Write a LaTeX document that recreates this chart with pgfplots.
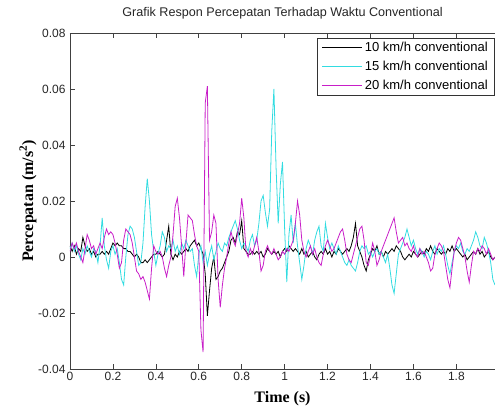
\documentclass[border=0pt]{standalone}
\usepackage{pgfplots}
\usepackage{pgfplotstable}
\pgfplotsset{compat=1.18}
\usepackage{fontspec}
\setmainfont{Liberation Sans}
\newfontfamily\serifb{Liberation Serif}
\definecolor{ccyan}{RGB}{50,220,225}
\definecolor{cmag}{RGB}{200,30,200}
\pgfplotstableread{
t a b c
0.00 0.004 0.003 0.002
0.01 0.002 0.005 0.005
0.02 0.004 0.002 0.003
0.03 0.001 0.004 0.005
0.04 0.003 0.001 0.002
0.05 0.002 -0.001 0.000
0.06 0.007 0.003 -0.002
0.07 0.004 0.001 0.003
0.08 0.002 0.004 0.008
0.09 0.003 0.002 0.006
0.10 0.001 0.000 0.003
0.11 0.002 0.003 0.004
0.12 0.000 0.002 0.001
0.13 0.001 -0.002 0.003
0.14 0.001 0.004 0.005
0.15 0.002 0.014 0.003
0.16 0.001 0.004 0.007
0.17 0.002 -0.001 0.010
0.18 0.001 -0.004 0.008
0.19 0.003 0.002 0.009
0.20 0.005 0.004 0.008
0.21 0.004 0.001 0.005
0.22 0.005 0.003 0.001
0.23 0.004 -0.002 -0.004
0.24 0.004 -0.008 -0.002
0.25 0.003 -0.010 0.006
0.26 0.003 0.000 0.010
0.27 0.002 0.008 0.009
0.28 0.002 0.011 0.008
0.29 0.001 0.010 0.005
0.30 0.000 0.007 0.000
0.31 0.001 0.002 -0.005
0.32 0.000 -0.003 -0.006
0.33 -0.002 -0.002 -0.008
0.34 -0.002 0.005 -0.007
0.35 -0.001 0.018 -0.009
0.36 -0.002 0.028 -0.012
0.37 -0.001 0.020 -0.015
0.38 0.000 0.008 -0.004
0.39 0.001 0.002 0.004
0.40 0.001 -0.003 0.002
0.41 0.002 0.001 0.001
0.42 0.001 0.004 0.002
0.43 0.000 0.009 0.000
0.44 0.001 0.007 -0.004
0.45 0.006 0.002 -0.007
0.46 0.011 0.004 -0.003
0.47 0.001 0.003 0.000
0.48 -0.001 0.006 0.008
0.49 0.001 0.002 0.018
0.50 0.000 0.004 0.021
0.51 0.002 0.001 0.014
0.52 0.001 0.005 0.004
0.53 0.002 0.003 -0.007
0.54 0.003 0.006 0.005
0.55 0.002 0.004 0.015
0.56 0.004 0.002 0.014
0.57 0.005 0.003 0.013
0.58 0.006 -0.003 0.008
0.59 0.004 -0.007 0.004
0.60 0.005 0.001 0.002
0.61 0.003 0.004 -0.026
0.62 0.001 -0.002 -0.034
0.63 -0.006 0.002 0.055
0.64 -0.021 -0.003 0.061
0.65 -0.012 0.001 0.006
0.66 -0.004 0.004 0.009
0.67 0.000 -0.001 0.015
0.68 -0.008 0.002 0.012
0.69 -0.007 0.005 -0.008
0.70 -0.005 0.003 -0.018
0.71 -0.004 0.002 -0.010
0.72 -0.002 0.005 -0.004
0.73 0.000 0.004 0.000
0.74 0.002 0.007 0.005
0.75 0.006 0.009 0.009
0.76 0.007 0.011 0.006
0.77 0.005 0.013 0.004
0.78 0.009 0.010 0.008
0.79 0.008 0.006 0.012
0.80 0.013 0.003 0.021
0.81 0.003 0.005 0.014
0.82 0.002 0.004 0.002
0.83 0.001 0.002 0.000
0.84 0.001 0.006 0.003
0.85 0.002 0.008 0.001
0.86 0.001 0.004 0.004
0.87 0.002 0.006 0.007
0.88 0.001 0.012 0.002
0.89 0.002 0.020 -0.005
0.90 0.000 0.022 -0.003
0.91 0.001 0.016 0.002
0.92 0.003 0.011 0.004
0.93 0.002 0.017 0.002
0.94 0.001 0.045 0.001
0.95 0.002 0.060 0.003
0.96 0.001 0.032 0.001
0.97 0.002 0.012 -0.001
0.98 0.000 0.026 0.000
0.99 0.002 0.034 0.002
1.00 0.003 0.010 0.001
1.01 0.002 -0.009 0.003
1.02 0.004 0.008 0.002
1.03 0.003 0.015 0.004
1.04 0.002 0.005 0.006
1.05 0.003 0.012 0.012
1.06 0.002 0.004 0.020
1.07 0.001 -0.002 0.015
1.08 0.003 -0.008 0.006
1.09 0.001 -0.003 0.002
1.10 0.002 0.003 0.000
1.11 0.000 0.006 0.002
1.12 0.001 0.004 0.004
1.13 0.002 0.001 0.001
1.14 0.000 0.006 0.003
1.15 -0.001 0.009 0.000
1.16 0.001 0.011 -0.002
1.17 0.002 0.004 -0.003
1.18 0.001 0.002 0.001
1.19 0.003 0.012 0.004
1.20 0.001 0.007 0.006
1.21 0.002 0.003 0.004
1.22 0.000 0.005 0.002
1.23 0.002 0.003 0.003
1.24 0.001 0.001 0.005
1.25 0.003 0.004 0.007
1.26 0.002 0.002 0.009
1.27 0.001 0.000 0.010
1.28 0.002 -0.002 0.006
1.29 0.003 -0.003 0.001
1.30 0.002 -0.001 -0.001
1.31 0.004 -0.003 -0.002
1.32 0.007 -0.004 0.001
1.33 0.012 -0.005 0.004
1.34 0.004 -0.002 0.007
1.35 0.002 0.002 0.010
1.36 0.000 0.004 0.011
1.37 -0.003 0.003 0.006
1.38 -0.005 0.004 -0.002
1.39 -0.001 0.001 -0.003
1.40 0.001 0.002 0.001
1.41 0.003 0.000 0.005
1.42 0.002 0.002 0.002
1.43 0.004 0.003 -0.003
1.44 0.001 0.001 -0.001
1.45 0.002 0.002 0.002
1.46 0.000 0.000 0.004
1.47 0.002 -0.002 0.006
1.48 0.001 0.001 0.008
1.49 0.002 -0.004 0.010
1.50 0.003 -0.010 0.012
1.51 0.002 -0.013 0.014
1.52 0.004 -0.006 0.009
1.53 0.003 0.001 0.005
1.54 0.002 0.003 0.006
1.55 0.000 0.005 0.007
1.56 -0.001 0.007 0.004
1.57 0.000 0.010 0.005
1.58 0.001 0.007 0.003
1.59 0.000 0.004 0.002
1.60 0.002 0.006 0.004
1.61 0.001 0.003 0.001
1.62 0.000 0.001 0.000
1.63 0.001 0.003 0.003
1.64 0.002 0.002 0.001
1.65 0.001 0.000 0.002
1.66 0.003 0.002 0.000
1.67 0.002 0.001 -0.002
1.68 0.004 -0.001 -0.005
1.69 0.002 0.002 -0.004
1.70 0.001 0.004 0.001
1.71 0.003 0.001 0.003
1.72 0.002 0.003 0.005
1.73 0.001 0.002 0.004
1.74 0.002 0.004 0.002
1.75 0.001 0.001 -0.003
1.76 0.003 -0.003 -0.008
1.77 0.002 -0.006 -0.011
1.78 0.004 -0.002 -0.004
1.79 0.002 0.002 0.002
1.80 0.003 0.004 0.005
1.81 0.002 0.003 0.007
1.82 0.001 0.005 0.006
1.83 0.000 0.002 0.003
1.84 0.001 0.001 0.000
1.85 -0.001 0.003 -0.005
1.86 0.000 0.002 -0.009
1.87 0.001 0.004 -0.003
1.88 0.002 0.006 0.002
1.89 0.001 0.009 0.001
1.90 0.003 0.007 0.003
1.91 0.001 0.004 0.002
1.92 0.002 0.003 0.004
1.93 0.000 0.007 0.003
1.94 0.001 0.005 0.001
1.95 0.002 0.002 0.003
1.96 0.000 -0.002 0.001
1.97 -0.001 -0.008 -0.001
1.98 0.000 -0.010 0.000
}\datatable
\begin{document}
\begin{tikzpicture}
\begin{axis}[
  scale only axis,
  width=425pt, height=336pt,
  xmin=0, xmax=1.98, ymin=-0.04, ymax=0.08,
  axis x line*=box, axis y line*=left,
  tick align=inside,
  major tick length=5pt,
  scaled x ticks=false, scaled y ticks=false,
  xtick={0,0.2,0.4,0.6,0.8,1,1.2,1.4,1.6,1.8},
  xticklabels={0,0.2,0.4,0.6,0.8,1,1.2,1.4,1.6,1.8},
  ytick={-0.04,-0.02,0,0.02,0.04,0.06,0.08},
  yticklabels={-0.04,-0.02,0,0.02,0.04,0.06,0.08},
  /pgf/number format/assume math mode=true,
  ticklabel style={font=\fontsize{12}{14}\selectfont, text=black!85},
  yticklabel style={xshift=-1pt},
  axis line style={black!75, line width=0.6pt},
  every tick/.style={black!75, line width=0.6pt},
  title={Grafik Respon Percepatan Terhadap Waktu Conventional},
  title style={font=\fontsize{12.6}{14}\selectfont, text=black!85, at={(rel axis cs:0.5,1)}, anchor=base, yshift=11pt},
  xlabel={Time (s)},
  xlabel style={font=\serifb\bfseries\fontsize{16}{18}\selectfont, at={(axis description cs:0.5,0)}, anchor=base, yshift=-33pt},
  ylabel={Percepatan (m/s\textsuperscript{2})},
  ylabel style={font=\serifb\bfseries\fontsize{16}{18}\selectfont, at={(axis description cs:-0.087,0.5)}, anchor=base, rotate=0},
  legend cell align=left,
  legend style={at={(rel axis cs:1,0.985)}, anchor=north east, draw=black!80, line width=0.6pt,
    font=\fontsize{13}{15}\selectfont, row sep=4pt, inner xsep=5pt, inner ysep=2pt},
  legend image code/.code={\draw[#1, line width=0.8pt] (0pt,0pt) -- (40pt,0pt);},
]
\addplot[black, line width=0.8pt] table[x=t, y=a] {\datatable};
\addlegendentry{10 km/h conventional}
\addplot[ccyan, line width=0.8pt] table[x=t, y=b] {\datatable};
\addlegendentry{15 km/h conventional}
\addplot[cmag, line width=0.8pt] table[x=t, y=c] {\datatable};
\addlegendentry{20 km/h conventional}
\end{axis}
\pgfresetboundingbox
\path[use as bounding box] (-70pt,-39pt) rectangle (425pt,369pt);
\end{tikzpicture}
\end{document}
